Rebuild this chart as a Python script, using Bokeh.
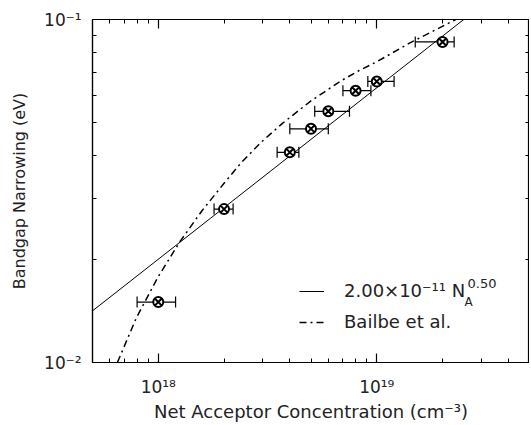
import numpy as np
from bokeh.plotting import figure
from bokeh.models import (LogAxis, FixedTicker, Whisker, ColumnDataSource, Legend,
                          LegendItem, Label, TeeHead, Range1d)
from bokeh.embed import file_html
from bokeh.resources import INLINE

# ---- data ----
conc = [1e18, 2e18, 4e18, 5e18, 6e18, 8e18, 1e19, 2e19]
bgn = [0.015, 0.028, 0.041, 0.048, 0.054, 0.062, 0.066, 0.086]
conc_low = [0.8e18, 1.8e18, 3.5e18, 4.0e18, 5.2e18, 7.0e18, 9.1e18, 1.5e19]
conc_high = [1.2e18, 2.2e18, 4.4e18, 6.0e18, 7.5e18, 9.4e18, 1.2e19, 2.26e19]

fit_coef = 2.00e-11
fit_exp = 0.50
fit_x = np.array([5e17, 5e19])
fit_y = fit_coef * fit_x ** fit_exp

bailbe_x = [6.5e17, 7.94e17, 1.0e18, 1.25e18, 1.585e18, 2.0e18, 2.4e18, 2.95e18,
            3.7e18, 5.0e18, 6.9e18, 8.3e18, 1.0e19, 1.41e19, 2.3e19]
bailbe_y = [0.0100, 0.0135, 0.0178, 0.0224, 0.0277, 0.0333, 0.0383, 0.0438,
            0.0498, 0.0579, 0.0664, 0.0710, 0.0753, 0.0853, 0.1000]

x_major = [1e18, 1e19]
x_minor = [6e17, 7e17, 8e17, 9e17, 2e18, 3e18, 4e18, 5e18, 6e18, 7e18, 8e18, 9e18,
           2e19, 3e19, 4e19]
y_major = [0.01, 0.1]
y_minor = [0.02, 0.03, 0.04, 0.05, 0.06, 0.07, 0.08, 0.09]
x_labels = {1e18: "10\u00b9\u2078", 1e19: "10\u00b9\u2079"}
y_labels = {0.01: "10\u207b\u00b2", 0.1: "10\u207b\u00b9"}

FONT = "DejaVu Sans"
INK = "#222222"

p = figure(x_axis_type="log", y_axis_type="log",
           x_range=Range1d(5e17, 5e19), y_range=Range1d(0.01, 0.1),
           frame_width=437, frame_height=343,
           min_border_left=92, min_border_top=19, min_border_bottom=63, min_border_right=0,
           output_backend="svg", toolbar_location=None)
p.xgrid.visible = False
p.ygrid.visible = False
p.outline_line_color = "black"
p.outline_line_width = 1.2
p.background_fill_color = "white"
p.border_fill_color = "white"

xt = FixedTicker(ticks=x_major, minor_ticks=x_minor)
yt = FixedTicker(ticks=y_major, minor_ticks=y_minor)

def style(ax, labels=True):
    ax.major_tick_in = 9
    ax.major_tick_out = 0
    ax.minor_tick_in = 4
    ax.minor_tick_out = 0
    ax.axis_line_color = "black"
    ax.axis_line_width = 1.2
    ax.major_tick_line_color = "black"
    ax.minor_tick_line_color = "black"
    ax.major_tick_line_width = 1.2
    ax.minor_tick_line_width = 1
    ax.major_label_text_font = FONT
    ax.major_label_text_font_size = "17px"
    ax.major_label_text_color = INK
    ax.axis_label_text_font = FONT
    ax.axis_label_text_font_size = "17px"
    ax.axis_label_text_font_style = "normal"
    ax.axis_label_text_color = INK
    if not labels:
        ax.major_label_text_font_size = "1px"
        ax.major_label_text_alpha = 0
        ax.major_label_standoff = 0

p.xaxis.ticker = xt
p.yaxis.ticker = yt
style(p.xaxis[0])
style(p.yaxis[0])
p.xaxis.major_label_overrides = x_labels
p.yaxis.major_label_overrides = y_labels
p.xaxis.axis_label = "Net Acceptor Concentration (cm\u207b\u00b3)"
p.yaxis.axis_label = "Bandgap Narrowing (eV)"
p.xaxis.axis_label_text_font_size = "18px"
p.yaxis.axis_label_text_font_size = "16px"
p.xaxis.major_label_standoff = 14
p.yaxis.major_label_standoff = 11
p.xaxis.axis_label_standoff = 1
p.yaxis.axis_label_standoff = 12

top_ax = LogAxis(ticker=xt)
style(top_ax, labels=False)
p.add_layout(top_ax, "above")
right_ax = LogAxis(ticker=yt)
style(right_ax, labels=False)
p.add_layout(right_ax, "right")

src = ColumnDataSource(dict(x=conc, y=bgn, lo=conc_low, hi=conc_high))

fit_r = p.line(fit_x, fit_y, line_color="black", line_width=1)
bailbe_r = p.line(bailbe_x, bailbe_y, line_color="black", line_width=1.5,
                  line_dash="7 4 2 4")

w = Whisker(source=src, base="y", lower="lo", upper="hi", dimension="width",
            line_color="black", line_width=1.2,
            lower_head=TeeHead(size=11, line_color="black", line_width=1.2),
            upper_head=TeeHead(size=11, line_color="black", line_width=1.2))
p.add_layout(w)

p.scatter("x", "y", source=src, marker="circle_x", size=10, fill_color="white",
          line_color="black", line_width=2)

legend = Legend(items=[LegendItem(label="2.00\u00d710\u207b\u00b9\u00b9 N", renderers=[fit_r]),
                       LegendItem(label="Bailbe et al.", renderers=[bailbe_r])],
                location=(207, 30), padding=0, margin=0, spacing=10,
                glyph_width=25, glyph_height=20, label_height=20, label_standoff=20,
                label_text_font=FONT, label_text_font_size="18px", label_text_color=INK,
                background_fill_alpha=0, border_line_alpha=0)
p.add_layout(legend, "center")

p.add_layout(Label(x=372, y=61, x_units="screen", y_units="screen", text="A",
                   text_baseline="alphabetic",
                   text_font=FONT, text_font_size="12px", text_color=INK))
p.add_layout(Label(x=375, y=79, x_units="screen", y_units="screen", text="0.50",
                   text_baseline="alphabetic",
                   text_font=FONT, text_font_size="13px", text_color=INK))

open("out.html", "w").write(file_html(p, INLINE))
